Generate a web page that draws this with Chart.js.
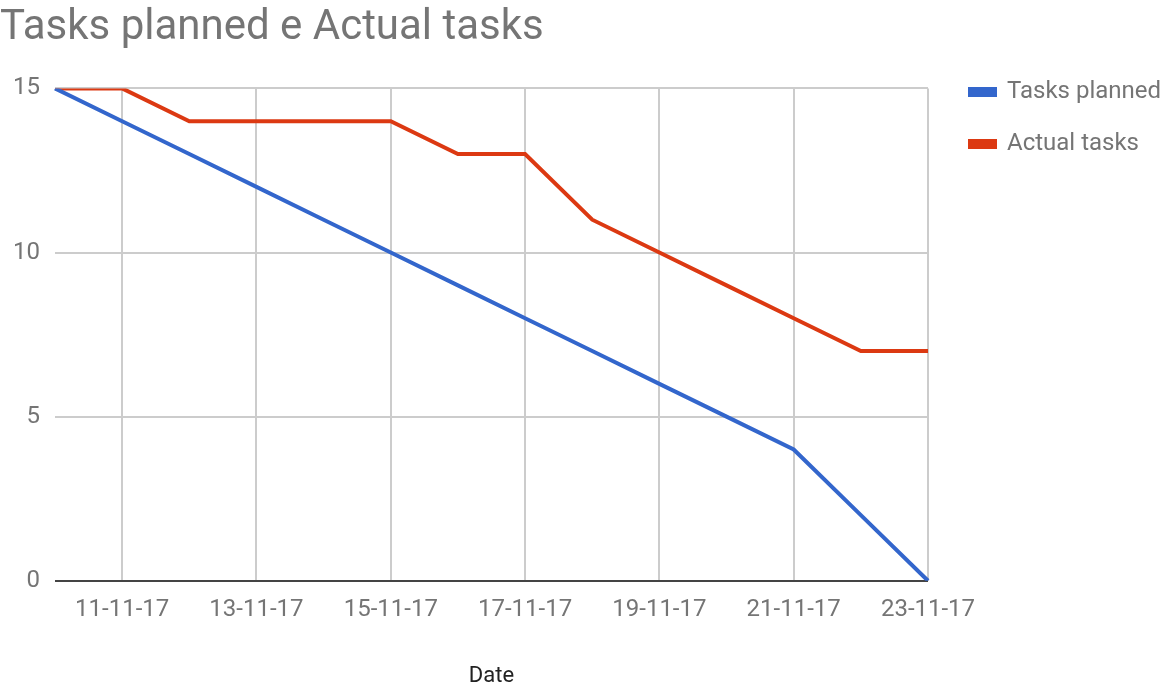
<!DOCTYPE html>
<html>
<head>
<meta charset="utf-8">
<script src="https://cdn.jsdelivr.net/npm/chart.js@4"></script>
<style>
    html, body { margin: 0; padding: 0; background: #fff; }
    #wrap { width: 1172px; height: 690px; }
</style>
</head>
<body>
<div id="wrap"><canvas id="myChart"></canvas></div>
<script>
// data
const dates = ['10-11-17', '11-11-17', '12-11-17', '13-11-17', '14-11-17', '15-11-17', '16-11-17',
    '17-11-17', '18-11-17', '19-11-17', '20-11-17', '21-11-17', '22-11-17', '23-11-17'];
const tasksPlanned = [15, 14, 13, 12, 11, 10, 9, 8, 7, 6, 5, 4, 2, 0];
const actualTasks = [15, 15, 14, 14, 14, 14, 13, 13, 11, 10, 9, 8, 7, 7];
const yTicks = [0, 5, 10, 15];

Chart.defaults.font.family = 'Roboto, sans-serif';
Chart.defaults.color = '#757575';

//fixed legend width so the plot ends where it should, then push legend down/right
const legendPlace = {
    id: 'legendPlace',
    beforeInit(chart) {
        const fit = chart.legend.fit;
        chart.legend.fit = function () {
            fit.bind(chart.legend)();
            this.width = 244;
        };
    },
    afterLayout(chart) {
        chart.legend.top += 52;
        chart.legend.left += 14;
    }
};

new Chart(document.getElementById('myChart'), {
    type: 'line',
    data: {
        labels: dates,
        datasets: [{
            label: 'Tasks planned',
            data: tasksPlanned,
            borderColor: '#3366cc',
            backgroundColor: '#3366cc',
            borderWidth: 4,
            pointRadius: 0,
            tension: 0
        }, {
            label: 'Actual tasks',
            data: actualTasks,
            borderColor: '#dc3912',
            backgroundColor: '#dc3912',
            borderWidth: 4,
            pointRadius: 0,
            tension: 0
        }]
    },
    options: {
        responsive: true,
        maintainAspectRatio: false,
        animation: false,
        layout: {padding: 0},
        plugins: {
            title: {
                display: true,
                text: 'Tasks planned e Actual tasks',
                align: 'start',
                font: {size: 42, weight: 'normal'},
                color: '#757575',
                padding: {top: 3, bottom: 35}
            },
            legend: {
                position: 'right',
                align: 'start',
                labels: {
                    boxWidth: 25,
                    boxHeight: 6,
                    padding: 28,
                    color: '#757575',
                    font: {size: 24}
                }
            },
            tooltip: {enabled: false}
        },
        scales: {
            x: {
                offset: false,
                grid: {
                    color: (ctx) => ctx.index % 2 === 1 ? '#cccccc' : 'rgba(0,0,0,0)',
                    lineWidth: 2,
                    drawTicks: false
                },
                border: {display: false},
                ticks: {
                    autoSkip: false,
                    maxRotation: 0,
                    padding: 15,
                    font: {size: 24},
                    callback: function (value, index) {
                        return index % 2 === 1 ? dates[index] : '';
                    }
                },
                title: {
                    display: true,
                    text: 'Date',
                    color: '#222222',
                    font: {size: 22},
                    padding: {top: 24, bottom: 0}
                }
            },
            y: {
                min: 0,
                max: 15,
                afterBuildTicks: (axis) => { axis.ticks = yTicks.map(v => ({value: v})); },
                afterFit: (axis) => { axis.width = 55; },
                grid: {
                    color: (ctx) => ctx.tick.value === 0 ? '#444444' : '#cccccc',
                    lineWidth: 2,
                    drawTicks: false
                },
                border: {display: false},
                ticks: {
                    padding: 15,
                    font: {size: 24}
                }
            }
        }
    },
    plugins: [legendPlace]
});
</script>
</body>
</html>
